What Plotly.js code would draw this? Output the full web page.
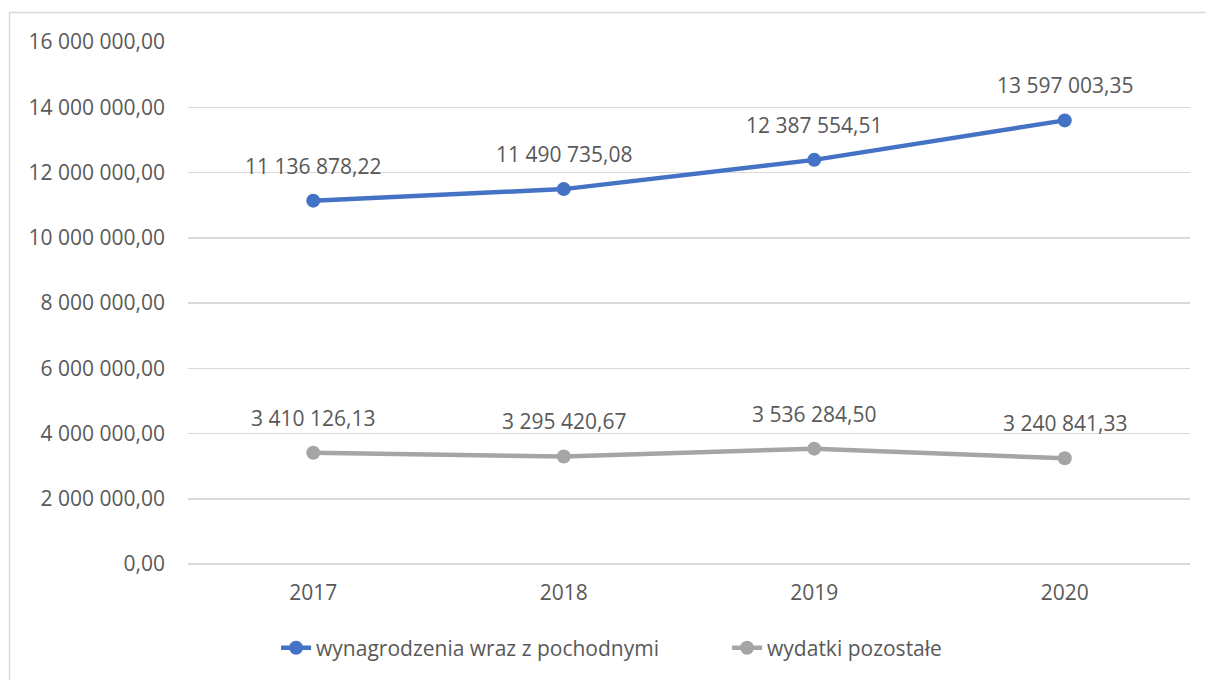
<!DOCTYPE html>
<html>
<head>
<meta charset="utf-8">
<script src="https://cdn.plot.ly/plotly-3.0.1.min.js"></script>
<style>
html,body{margin:0;padding:0;background:#fff;}
#chart{width:1206px;height:680px;}
</style>
</head>
<body>
<div id="chart"></div>
<script>
const years = ["2017", "2018", "2019", "2020"];
const wynagrodzenia = [11136878.22, 11490735.08, 12387554.51, 13597003.35];
const pozostale = [3410126.13, 3295420.67, 3536284.50, 3240841.33];
const seriesNames = ["wynagrodzenia wraz z pochodnymi", "wydatki pozostałe"];

function fmt(v) {
  const parts = v.toFixed(2).split(".");
  const intPart = parts[0].replace(/\B(?=(\d{3})+(?!\d))/g, " ");
  return intPart + "," + parts[1];
}

const FONT = "'Open Sans', 'DejaVu Sans', sans-serif";
const TXT = "#595959";
const FS = 21;

const traces = [
  {
    x: years, y: wynagrodzenia, name: seriesNames[0], type: "scatter", mode: "lines+markers",
    line: {color: "#4472C4", width: 4.5}, marker: {color: "#4472C4", size: 14},
    hoverinfo: "skip"
  },
  {
    x: years, y: pozostale, name: seriesNames[1], type: "scatter", mode: "lines+markers",
    line: {color: "#A5A5A5", width: 4.5}, marker: {color: "#A5A5A5", size: 14},
    hoverinfo: "skip"
  }
];

const annotations = [];
[wynagrodzenia, pozostale].forEach(arr => {
  arr.forEach((v, i) => {
    annotations.push({
      x: i, y: v, xref: "x", yref: "y", text: fmt(v), showarrow: false,
      yshift: 35, font: {family: FONT, size: FS, color: TXT}
    });
  });
});

const layout = {
  width: 1206, height: 680,
  margin: {l: 188, r: 16, t: 42, b: 115},
  paper_bgcolor: "#fff", plot_bgcolor: "#fff",
  separators: ", ",
  font: {family: FONT, size: FS, color: TXT},
  showlegend: true,
  legend: {
    orientation: "h", x: 0.538, xanchor: "center", y: -0.159, yanchor: "middle",
    font: {family: FONT, size: FS, color: TXT}, entrywidth: 406
  },
  xaxis: {
    type: "category", range: [-0.5, 3.5], showgrid: false, zeroline: false, showline: false,
    ticks: "", ticklabelstandoff: 14, tickfont: {family: FONT, size: FS, color: TXT}
  },
  yaxis: {
    range: [0, 16000000], dtick: 2000000, tick0: 0, tickformat: ",.2f",
    showgrid: true, gridcolor: "#d9d9d9", gridwidth: 1.5,
    zeroline: true, zerolinecolor: "#d9d9d9", zerolinewidth: 1.5,
    showline: false, ticks: "", ticklabelstandoff: 22,
    tickfont: {family: FONT, size: FS, color: TXT}
  },
  annotations: annotations,
  shapes: [{
    type: "rect", xref: "paper", yref: "paper",
    x0: -0.1781, x1: 1.1, y0: -0.4, y1: 1.0564,
    line: {color: "#d9d9d9", width: 1.5}, fillcolor: "rgba(0,0,0,0)", layer: "below"
  }]
};

Plotly.newPlot("chart", traces, layout, {displayModeBar: false, staticPlot: true});
</script>
</body>
</html>
